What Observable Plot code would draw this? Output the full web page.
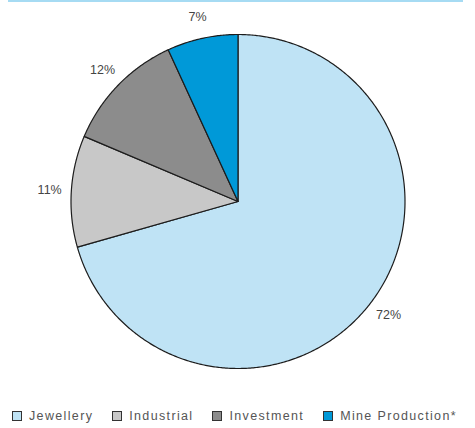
<!DOCTYPE html>
<html>
<head>
<meta charset="utf-8">
<script src="https://cdn.jsdelivr.net/npm/d3@7"></script>
<script src="https://cdn.jsdelivr.net/npm/@observablehq/plot@0.6"></script>
<style>
  html, body { margin: 0; padding: 0; background: #fff; }
  #wrap { width: 475px; height: 428px; position: relative; overflow: hidden; font-family: "Liberation Sans", Arial, sans-serif; }
  #topline { position: absolute; left: 8px; right: 12px; top: 0; height: 2px; background: #a6dbf3; }
  #chart { position: absolute; left: 0; top: 0; }
  #legend { position: absolute; left: 12px; top: 409px; display: flex; align-items: center; gap: 19px; font-size: 12.5px; color: #555; letter-spacing: 1.35px; white-space: nowrap; }
  .item { display: flex; align-items: center; gap: 7px; }
  .sw { width: 8px; height: 8px; border: 1.2px solid #333; }
</style>
</head>
<body>
<div id="wrap">
  <div id="chart"></div>
  <div id="topline"></div>
  <div id="legend"></div>
</div>
<script>
const categories = ["Jewellery", "Industrial", "Investment", "Mine Production*"];
const values = [72, 11, 12, 7];
const labels = ["72%", "11%", "12%", "7%"];
const colors = ["#bfe3f5", "#c8c8c8", "#8c8c8c", "#0099d8"];

const cx = 237.5, cy = 201, r = 167;
const W = 475, H = 400;

const arcs = d3.pie().sort(null).value(d => d)(values);

// wedge outlines (normalized units, y up)
const pts = [];
arcs.forEach((a, i) => {
  const cat = categories[i];
  pts.push({cat, x: 0, y: 0});
  const n = Math.max(2, Math.ceil((a.endAngle - a.startAngle) / (Math.PI / 360)));
  for (let k = 0; k <= n; k++) {
    const t = a.startAngle + (a.endAngle - a.startAngle) * k / n;
    pts.push({cat, x: Math.sin(t), y: Math.cos(t)});
  }
  pts.push({cat, x: 0, y: 0});
});

const labelR = 1.13;
const lab = arcs.map((a, i) => {
  const m = (a.startAngle + a.endAngle) / 2;
  return {text: labels[i], x: labelR * Math.sin(m), y: labelR * Math.cos(m)};
});

const chart = Plot.plot({
  width: W,
  height: H,
  margin: 0,
  x: {domain: [-1, 1], range: [cx - r, cx + r], axis: null},
  y: {domain: [-1, 1], range: [cy + r, cy - r], axis: null},
  color: {domain: categories, range: colors},
  style: {background: "transparent", overflow: "visible"},
  marks: [
    Plot.line(pts, {x: "x", y: "y", z: "cat", fill: "cat", stroke: "#1c1c1c", strokeWidth: 1.2, strokeLinejoin: "round", curve: "linear"}),
    Plot.text(lab, {x: "x", y: "y", text: "text", fontSize: 12.5, fill: "#444", fontFamily: "Liberation Sans, Arial, sans-serif"})
  ]
});
document.getElementById("chart").appendChild(chart);

const legend = d3.select("#legend");
categories.forEach((c, i) => {
  const it = legend.append("div").attr("class", "item");
  it.append("div").attr("class", "sw").style("background", colors[i]);
  it.append("span").text(c);
});
</script>
</body>
</html>
